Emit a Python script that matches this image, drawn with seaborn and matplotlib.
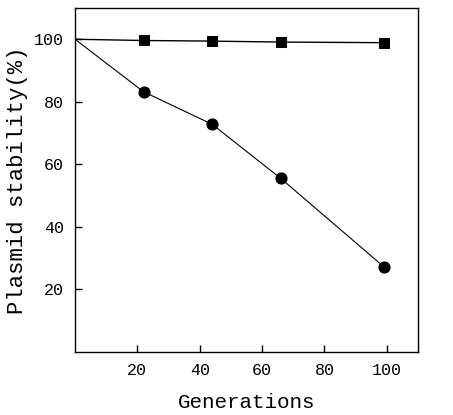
import matplotlib
matplotlib.use("Agg")
import matplotlib.pyplot as plt
import seaborn as sns
import pandas as pd

generations = [0, 22, 44, 66, 99]
stable_square = [100, 99.6, 99.4, 99.1, 98.9]
unstable_circle = [100, 83.2, 72.8, 55.5, 27.3]
xticks = [20, 40, 60, 80, 100]
yticks = [20, 40, 60, 80, 100]

sns.set_theme(style="ticks")
plt.rcParams['font.family'] = ['Liberation Mono', 'DejaVu Sans']

df = pd.DataFrame({
    "Generations": generations * 2,
    "Stability": stable_square + unstable_circle,
    "Series": ["square"] * len(generations) + ["circle"] * len(generations),
})

fig = plt.figure(figsize=(4.53, 4.15), dpi=100)
ax = fig.add_axes([0.1656, 0.1518, 0.757, 0.829])

sns.lineplot(data=df[df.Series == "square"], x="Generations", y="Stability",
             color="black", lw=1.0, marker="s", markersize=7, markeredgecolor="black",
             markevery=[1, 2, 3, 4], ax=ax)
sns.lineplot(data=df[df.Series == "circle"], x="Generations", y="Stability",
             color="black", lw=0.8, marker="o", markersize=8, markeredgecolor="black",
             markevery=[1, 2, 3, 4], ax=ax)

ax.set_xlim(0, 110)
ax.set_ylim(0, 110)
ax.set_xticks(xticks)
ax.set_yticks(yticks)
ax.tick_params(direction="in", length=5, width=1, labelsize=12, colors="black", pad=8)
for s in ax.spines.values():
    s.set_color("black")
    s.set_linewidth(1.0)
ax.set_xlabel("Generations", fontsize=15, labelpad=11, color="black")
ax.set_ylabel("Plasmid stability(%)", fontsize=16, labelpad=4, color="black")

fig.savefig("out.png", dpi=100)
